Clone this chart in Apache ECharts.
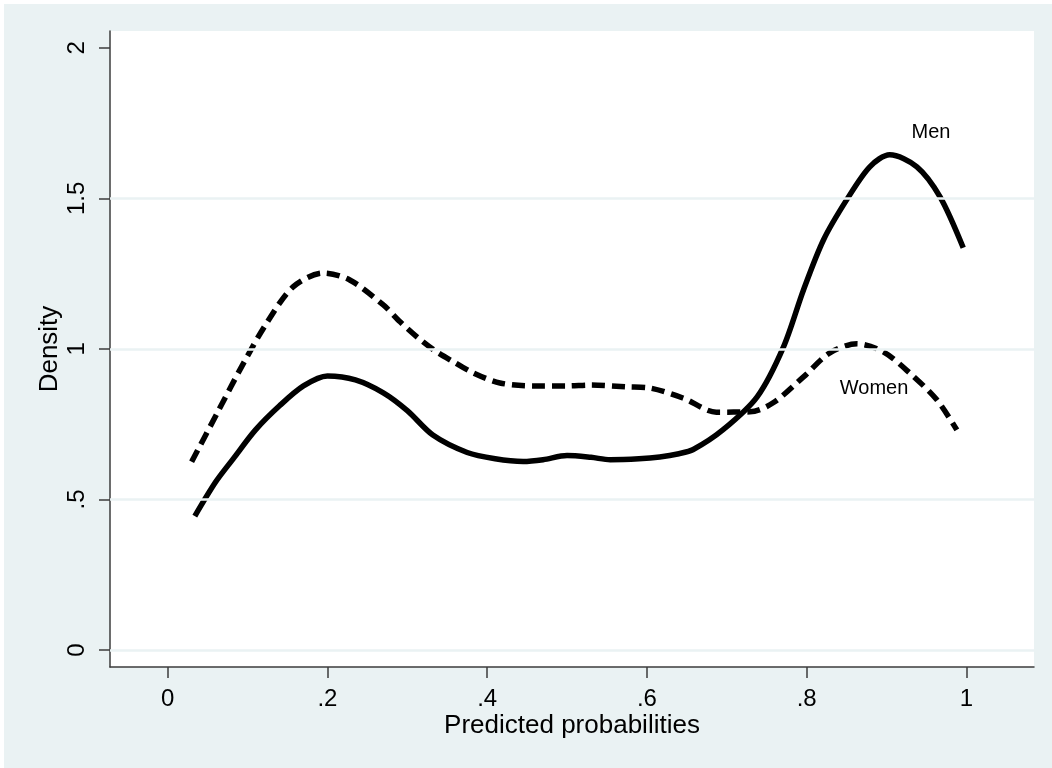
<!DOCTYPE html>
<html>
<head>
<meta charset="utf-8">
<script src="https://cdn.jsdelivr.net/npm/echarts@6/dist/echarts.min.js"></script>
<style>
  body { margin: 0; background: #fff; }
  #chart { width: 1052px; height: 768px; }
</style>
</head>
<body>
<div id="chart"></div>
<script>
// kernel density
const menProb = [0.034, 0.06, 0.082, 0.11, 0.14, 0.17, 0.20, 0.235, 0.27, 0.30, 0.332, 0.375, 0.41, 0.445, 0.47, 0.50, 0.53, 0.554, 0.59, 0.616, 0.64, 0.658, 0.695, 0.738, 0.771, 0.796, 0.821, 0.85, 0.879, 0.904, 0.938, 0.967, 0.996]
const menDensity = [0.445, 0.558, 0.635, 0.731, 0.811, 0.877, 0.91, 0.897, 0.854, 0.795, 0.714, 0.656, 0.635, 0.626, 0.632, 0.646, 0.64, 0.632, 0.635, 0.641, 0.652, 0.666, 0.731, 0.841, 1.007, 1.196, 1.362, 1.495, 1.605, 1.645, 1.605, 1.505, 1.336]
const womenProb = [0.030, 0.062, 0.095, 0.124, 0.157, 0.195, 0.228, 0.27, 0.291, 0.312, 0.333, 0.354, 0.383, 0.416, 0.458, 0.50, 0.529, 0.575, 0.604, 0.645, 0.687, 0.729, 0.758, 0.796, 0.829, 0.863, 0.896, 0.929, 0.963, 0.988]
const womenDensity = [0.625, 0.787, 0.953, 1.086, 1.206, 1.252, 1.229, 1.146, 1.09, 1.04, 0.997, 0.963, 0.92, 0.887, 0.877, 0.877, 0.88, 0.874, 0.87, 0.837, 0.79, 0.791, 0.821, 0.907, 0.987, 1.017, 0.99, 0.92, 0.831, 0.731]

const xTicks = [0, 0.2, 0.4, 0.6, 0.8, 1]
const xTickLabels = ['0', '.2', '.4', '.6', '.8', '1']
const yTicks = [0, 0.5, 1, 1.5, 2]
const yTickLabels = ['0', '.5', '1', '1.5', '2']
const gridValues = [0, 0.5, 1, 1.5]

// where the curve names sit (data coords)
const curveNames = ['Men', 'Women']
const curveNameAt = [[0.9556, 1.7176], [0.8843, 0.870]]

const bg = '#EAF2F3'
const ink = '#000'
const axisColor = '#3c3c3c'
const font = '"Liberation Sans", Arial, sans-serif'

function pairs (xs, ys) {
  return xs.map((x, i) => [x, ys[i]])
}
function tickText (ticks, labels) {
  return (v) => {
    const i = ticks.findIndex((t) => Math.abs(t - v) < 1e-9)
    return i < 0 ? '' : labels[i]
  }
}

const chart = echarts.init(document.getElementById('chart'), null, { renderer: 'canvas' })
chart.setOption({
  animation: false,
  backgroundColor: '#fff',
  textStyle: { fontFamily: font },
  grid: {
    left: 110,
    top: 31,
    width: 924,
    height: 636,
    show: true,
    backgroundColor: '#fff',
    borderWidth: 0,
    containLabel: false,
    outerBoundsMode: 'none'
  },
  xAxis: {
    type: 'value',
    min: -0.0722,
    max: 1.0846,
    name: 'Predicted probabilities',
    nameLocation: 'middle',
    nameGap: 46,
    nameMoveOverlap: false,
    nameTextStyle: { fontSize: 26, color: ink, fontFamily: font },
    axisLine: { show: true, onZero: false, lineStyle: { color: axisColor, width: 1.5 } },
    axisTick: { show: true, length: 11, customValues: xTicks, lineStyle: { color: axisColor, width: 1.5 } },
    axisLabel: {
      customValues: xTicks,
      formatter: tickText(xTicks, xTickLabels),
      margin: 20,
      fontSize: 24,
      color: ink,
      fontFamily: font
    },
    splitLine: { show: false }
  },
  yAxis: {
    type: 'value',
    min: -0.0565,
    max: 2.056,
    name: 'Density',
    nameLocation: 'middle',
    nameRotate: 90,
    nameGap: 47,
    nameMoveOverlap: false,
    nameTextStyle: { fontSize: 26, color: ink, fontFamily: font },
    axisLine: { show: true, onZero: false, lineStyle: { color: axisColor, width: 1.5 } },
    axisTick: { show: true, length: 11, customValues: yTicks, lineStyle: { color: axisColor, width: 1.5 } },
    axisLabel: {
      customValues: yTicks,
      formatter: tickText(yTicks, yTickLabels),
      rotate: 90,
      margin: 21,
      fontSize: 24,
      color: ink,
      fontFamily: font
    },
    splitLine: { show: false }
  },
  series: [
    {
      // gridlines, kept under the curves
      type: 'line',
      z: 1,
      silent: true,
      data: [],
      markLine: {
        silent: true,
        symbol: ['none', 'none'],
        label: { show: false },
        lineStyle: { color: bg, width: 2.5, type: 'solid' },
        data: gridValues.map((v) => ({ yAxis: v }))
      }
    },
    {
      name: 'Men',
      type: 'line',
      z: 3,
      smooth: 0.3,
      showSymbol: false,
      data: pairs(menProb, menDensity),
      lineStyle: { color: '#000', width: 5.5, cap: 'butt' }
    },
    {
      name: 'Women',
      type: 'line',
      z: 3,
      smooth: 0.3,
      showSymbol: false,
      data: pairs(womenProb, womenDensity),
      lineStyle: { color: '#000', width: 5.5, type: [13, 7], cap: 'butt' }
    }
  ]
})

// outer region plus the curve names, placed through the axes
const nameTexts = curveNames.map((name, i) => {
  const [px, py] = chart.convertToPixel({ gridIndex: 0 }, curveNameAt[i])
  return {
    id: 'name' + i,
    type: 'text',
    silent: true,
    z: 10,
    x: px,
    y: py,
    style: {
      text: name,
      fill: ink,
      font: '20px ' + font,
      align: 'center',
      verticalAlign: 'middle'
    }
  }
})
chart.setOption({
  graphic: [{
    id: 'outer',
    type: 'rect',
    z: -10,
    silent: true,
    shape: { x: 4, y: 4, width: 1048, height: 764 },
    style: { fill: bg }
  }].concat(nameTexts)
})
</script>
</body>
</html>
